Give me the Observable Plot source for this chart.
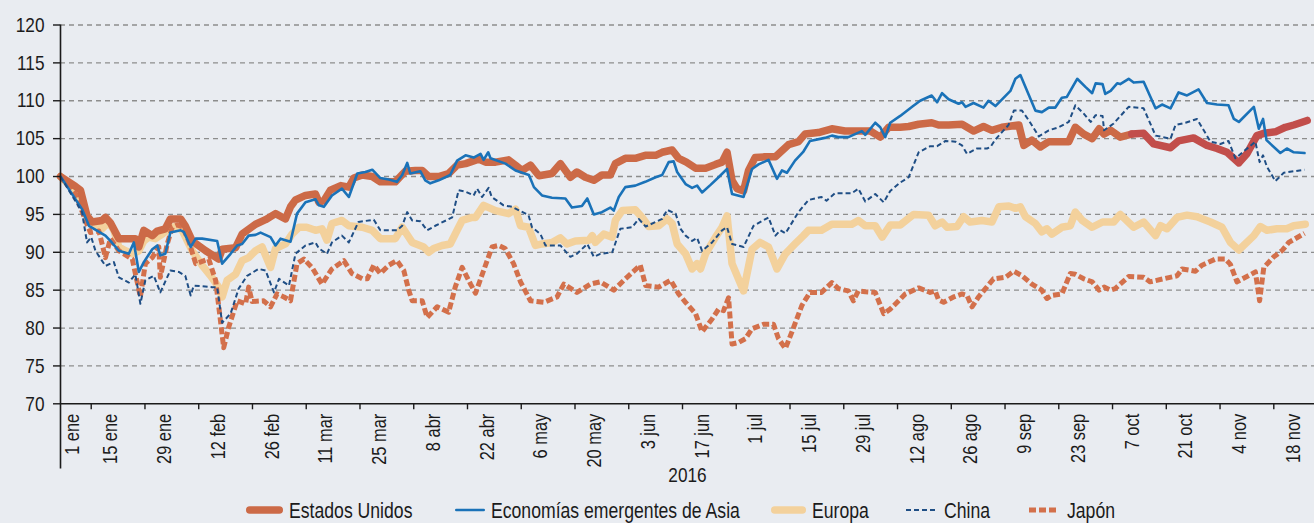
<!DOCTYPE html>
<html><head><meta charset="utf-8">
<script src="https://cdn.jsdelivr.net/npm/d3@7"></script>
<script src="https://cdn.jsdelivr.net/npm/@observablehq/plot@0.6"></script>
<style>
html,body{margin:0;padding:0;background:#E9ECF1;}
#chart{position:relative;width:1314px;height:523px;background:#E9ECF1;overflow:hidden;}
#chart svg{font-family:'Liberation Sans',Arial,sans-serif;}
</style></head><body><div id="chart"></div>
<script>
// ---- data (days since 1 Jan 2016, index values, 1 Jan 2016 = 100) ----
const usDay = [0,3.9,5.2,6.9,8.2,10.8,11.7,13,15.2,19.5,20.4,21.7,23.9,25.2,27.3,28.6,31.3,32.5,34.3,37.8,41.2,42.1,45.6,47.3,50.8,53.4,56,58.6,59.9,61.2,63.8,66.4,67.3,68.6,70.3,73,75.1,76.4,78.6,81.2,83.3,87.2,89.8,92.4,94.2,95.9,98.5,101.1,103.3,105.5,108.9,110.7,113.3,116.7,118.5,120.2,122.4,124.6,128,130.2,132.8,134.5,136.7,138.9,141,143.2,144.5,147.1,149.7,152.3,155,156.7,159.3,161,163,165.4,168,170.6,172.3,173.6,174.9,176.2,177.9,179.2,180.9,183.5,186.2,187.9,189.6,192.2,193.9,197.4,200.9,204.3,207.8,210.9,213.5,215.7,218.7,220.9,223.5,226.9,228.7,231.3,234.8,237.8,240.4,242.6,245.2,249.6,250.9,253,255.2,257.4,262.6,264.3,266.5,268.7,270.5,271.8,273.5,276,279,282.1,284.7,289.1,291.2,295.1,298.6,301.2,303.8,306.9,309,311.6,313.4,316.4,319,321.2,324.7];
const usVal = [100,98.7,98.2,94.8,94,94.2,94.6,93.9,91.8,91.8,90.7,92.9,92.2,92.8,93.1,94.4,94.4,93.5,91.5,90.2,89.1,90.4,90.6,92.4,93.7,94.3,95.1,94.4,96,96.9,97.5,97.7,96.6,96.8,98.2,98.8,98.6,99.8,100.2,100,99.3,99.3,100.7,100.8,100.8,100,100,100.4,101.5,101.7,102.3,101.9,101.9,102.2,101.5,100.8,101.5,100.1,100.4,101.7,99.9,100.6,99.9,99.5,100.2,100.2,101.7,102.4,102.4,102.8,102.8,103.2,103.5,102.4,101.9,101.1,101.1,101.6,101.9,103.2,99.5,98.4,98.1,100.8,102.5,102.6,102.6,103.4,104.2,104.6,105.6,105.8,106.3,106,106,106,105.2,106.5,106.5,106.6,106.9,107.1,106.8,106.8,106.9,106,106.6,106.1,106.5,106.8,104.1,104.8,103.9,104.6,104.6,106.5,105.6,105,106.3,105.6,106.1,105.2,105.6,105.7,104.3,103.8,104.7,105.1,104.1,103.7,103.2,101.8,103,105.4,105.7,105.9,106.5,106.8,107.4];
const usRecentFrom = 279; // day from which Estados Unidos is drawn in the darker red

const asiaDay = [0,5.6,7.4,11.7,13,15.2,17.8,19.1,20.4,21.7,23.9,25.2,26,27.3,28.6,31.3,32.1,33.9,35.2,36.9,40.8,42.1,44.3,46,47.3,49,50.8,52.1,54.7,56,57.3,59.9,61.6,63.8,66.4,67.3,68.6,70.7,73.3,75.1,77.3,79.4,81.2,83.3,85.5,87.6,89,90.3,91.1,93.7,95,96.3,98.5,101.5,103.3,105.5,107.6,109.4,110.2,111.4,112,115.9,118.5,122,123.3,125.4,128,131.5,133.2,135.8,137.2,138.9,141,143.2,144.1,145.4,147.1,149.7,152.3,155,156.7,158.4,159.7,160.6,162.8,164.5,165.8,167.1,169.3,171.4,173.6,174.9,177.9,180.1,181.8,184.4,186.6,187.9,189.2,191.3,193.5,195.2,199.1,200.9,202.6,205.2,208.7,209.6,212.2,213.5,214.8,216.1,218.7,221.8,223.9,226.9,228.3,229.6,231.3,233.9,234.8,235.7,237.8,240.4,241.7,243.5,247.4,248.7,250,253.9,255.6,257.4,259.1,260.8,262.1,264.8,267,268.7,269.6,271.4,272.1,273.5,275.2,276,278.2,279.5,282.1,285.2,286.9,289.1,291.2,293.4,296.4,298.6,301.2,304.2,305.6,306.9,310.8,312.1,313.2,314.1,317.7,319.4,321.2,324];
const asiaVal = [100,95.7,93.5,92.2,91.5,90.2,89.8,91.3,87.4,88.7,90.4,90.9,89.6,89.8,92.6,92.9,92.7,90.7,91.8,91.8,91.5,88.5,89.8,90.9,91.1,92.2,92.3,92.6,92,90.9,91.8,91.4,95.1,96.6,97,96.2,96,97.5,98.4,97.3,100.4,100.6,100.9,99.8,99.6,99.3,100.2,101.8,100.4,100.7,99.5,99.1,99.5,100.2,102.1,102.8,102.5,103,102.2,103.2,102.4,101.7,100.8,100.2,98.6,97.5,97.2,97.1,95.9,96.1,97.1,95,95.3,95.9,95.5,97.3,98.6,98.8,99.3,99.9,100.2,101.9,102,100.6,99,98.5,98.8,97.9,98.9,99.9,101,97.7,97.3,101,101.6,102.2,99.7,100.8,100.5,102.1,103.3,104.7,105.1,105.4,105.2,105.2,106,105.5,107.1,106.5,105.2,107.1,108,109.2,110,110.7,109.8,111,110.2,109.6,109.8,109.2,109.7,109.1,110,109.3,111.3,112.9,113.4,108.7,108.5,109.1,109.1,110.4,110.5,112.9,111.8,111,112.3,112.2,110.9,111.3,112.3,112.2,112.9,112.4,112.5,109,109.5,109,111.1,110.7,111.5,109.7,109.5,109.4,107.6,107.2,109.2,106.3,107.6,104.8,103.1,103.7,103.2,103.1];

const euDay = [0,3.9,6.1,7.4,10.8,12.6,13.9,15.2,16.9,18.7,20.4,21.7,23,24.7,26.5,28.2,29.9,31.7,34.3,37,39.1,41.2,42.1,43.4,45.6,47.3,49,50.8,52.5,54.7,56,58.6,60.3,62.1,64.1,66.4,68.1,69.4,70.7,73.3,75.1,78.6,81.2,83.3,87.2,89,91.6,94.6,95.9,97.2,99.4,101.5,103.3,104.6,107.2,108.1,110.2,113.3,116.7,118.5,119.8,121.9,123.7,125.4,128,130.2,131.9,134.1,137.6,138.5,139.3,141.5,143.7,144.5,146.3,149.7,151.5,153.2,155.8,158,159.3,160.6,162.8,164.5,165.8,166.7,168,170.6,172.3,173.6,174.9,177.9,180.1,182.2,184.4,186.6,188.8,191.3,193.5,194.8,198.2,200.9,206.1,207.8,209.6,212.2,214,216.1,218.7,222.2,226.1,227.8,229.6,230.9,233.5,235.2,236.9,240,242.6,244.4,247,248.7,250,251.3,253.9,255.6,256.9,258.2,260.8,263,264.3,266.1,268.7,271.4,274.3,276,279.5,282.1,285.2,286.5,288.2,290.8,293.4,296,299.5,302.5,304.7,306.9,310.8,312.5,314.2,316.8,319.4,321.2,324.2];
const euVal = [100,98.1,95.9,94.2,93.1,94,92.9,90.7,90.2,89.8,90.2,91.5,92,91.8,92.4,93.1,93.4,92.9,90.2,88.2,86.9,85.4,84.1,86.3,87.1,88.9,89.3,90.2,90.7,88,90.5,91.1,92.4,93.3,93.3,92.9,93.1,91.6,93.8,94.2,93.5,93.3,92.9,91.8,91.8,93.3,91.3,90.7,90,90.5,90.9,91.1,92.9,94.2,94.6,94.6,96.2,95.5,95.1,95.7,93.5,93.3,90.9,91.1,91.3,91.9,91.1,91.5,91.6,92.2,91.3,92.4,92,94.2,95.5,95.6,94.6,93.4,93.5,94.4,93.8,91.1,89.8,87.8,88.5,87.8,89.8,92,93.3,94.8,88.5,84.9,90.4,91.3,90.7,87.8,89.8,91.1,92.2,92.9,92.9,93.7,93.7,94.2,93.5,93.5,92,93.6,93.6,95,94.9,93.5,94,93.3,93.4,94.7,94,94.2,94,96,96.1,95.8,96,94.7,93.8,92.7,93.1,92.4,93.3,93.5,95.3,94.2,93.3,94,94,95,93.3,94,92.2,93.5,93.1,94.6,94.9,94.7,94,93.3,91.3,90.3,92.2,93.4,92.9,93.1,93.1,93.5,93.7];

const chinaDay = [0,5.6,6.9,8,9.1,11.7,13.9,15.2,17.8,19.5,20.8,22.1,24.3,26,28.6,30.8,32.5,33.9,34.7,39.5,40.8,42.1,44.3,46.4,48.6,51.6,53.4,55.6,56.9,59.5,61.2,63.8,66.4,67.3,69.4,70.7,73.3,75.1,77.6,81.6,83.3,87.6,89,90.3,91.6,93.7,95.5,97.6,102,103.7,105.5,107.6,108.5,109.8,111.5,112.3,115.4,117.6,121.9,122.8,125,126.3,130.2,132.8,134.5,137.2,138.9,140.6,143.7,145.8,148.9,150.6,152.4,156.7,158,160.2,161.5,162.8,164.5,165.8,167.1,169.7,172.3,173.6,174.9,177.9,180.5,184.4,186.2,187.5,188.8,192.2,194.8,198.2,199.5,201.7,206.1,207.8,209.6,212.2,214.4,216.1,218.7,220.9,223.5,226.5,228.3,230.5,233.1,234.8,236.1,238.7,241.3,242.2,243.5,246.9,248.3,250.4,252.2,254.8,257.4,260,262.6,264.3,266.5,268.3,269.6,271.4,271.8,274.3,278.2,282.1,285.2,289.1,290.4,293,296,299.5,302.1,304.2,306,311.2,312.3,313.2,314.2,316.4,318.6,324];
const chinaVal = [100,95.3,91.3,92,90.2,88.2,88.7,86.7,86,87.1,83.2,86.3,86.9,84.7,87.6,87.4,86.9,84.3,85.6,85.4,85.4,80.7,81.9,85.2,86.9,87.8,87.6,84.7,86.5,85.6,89.8,90.9,91.3,90.5,89.8,91.3,92.2,91.3,94,94.3,92.9,92.9,93.5,95.3,94.2,94.1,92.9,93.5,94.6,98.2,98,97.5,98.4,97.3,98.5,97.3,96.2,96,94.9,93.3,92.4,90.9,90.9,89.4,89.8,91.1,89.4,89.8,90,93.1,93.3,94.4,93.4,94.4,95.6,95.1,93.1,92.2,91.5,91.9,90.2,91.3,92.9,93.3,91.1,90.7,93.5,94.6,92.2,92.9,92.5,95.3,96.9,97.3,96.8,97.8,97.8,98.4,96.7,97.7,96.6,98.1,99.2,99.9,103.2,104,104,104.7,104.6,104.1,103,103.7,103.7,103.9,104.9,106.8,108.7,108.7,107.4,105.3,106.1,106.5,107.2,109.4,108.3,107.2,108.1,108,106.1,107,109.2,109,105.4,105,106.8,107.1,107.6,104.6,104.3,104.7,102.4,104.6,101.9,102.8,101.3,99.4,100.5,100.9];

const japanDay = [0,3.9,6.5,7.8,10,11.7,13,15.2,18.7,20.8,22.1,23.9,25.6,26,27.8,29.1,30.4,31.7,33.4,35.2,38.6,40.4,42.5,43.8,46,48.2,49,49.9,52.9,54.7,56.4,58.2,59.9,61.6,63.4,65.5,68.1,70.7,73.8,75.9,78.6,79.9,81.6,83.3,85.5,87.6,89.4,90.7,91.6,94.2,95.5,98.1,101.1,102.8,104.6,106.8,108.1,110.2,112.4,114.1,115.8,118,119.8,122.4,125.9,129.3,131.1,134.5,138,140.6,144.1,146.7,151,152.4,155.8,158.9,161,162.8,165.4,167.1,169.7,171.4,172.7,174,174.9,176.6,178.4,180.1,183.1,185.7,187,188.8,190.5,193.1,195.2,198.2,200.9,202.6,205.2,206.5,207.8,209.6,212.2,214.4,216.1,218.7,220,223.5,226.5,227.8,228.7,230,232.6,234.8,236.1,237.4,239.1,240.9,243,246.1,248.3,250.4,253,255.6,256.9,258.2,260.8,263,264.3,266.5,268.7,270.5,271.8,273.5,274.7,278.2,282.1,283.8,287.3,290.8,292.1,295.6,297.3,300.8,303.4,304.7,306.4,311.2,312.3,313.4,316,318.1,319.9,324];
const japanVal = [100,97.7,94.2,92.6,92.8,89.3,91.8,90.2,89.1,84.1,88.5,89.3,90.7,86.7,91.1,93.3,93.6,93.4,91.5,88.5,89.1,86.3,77.4,80.1,83.6,83.2,85.4,83.5,83.6,82.8,84.5,84.1,83.6,88.5,89.1,88,85.8,87.8,88.9,87.2,86.5,86.5,88.3,87.2,88.3,88.9,87.6,85,83.6,83.6,81.4,82.8,82.1,85.4,88,85.8,84.6,87.6,90.7,90.9,90.5,88.5,86.1,83.6,83.4,84.1,85.8,84.7,85.8,86.1,85,86.3,88.3,85.6,85.4,86.3,84.5,83.4,81.9,79.5,81.2,82.5,82.3,84,77.9,78.1,78.6,79.9,80.5,80.5,78.6,77.3,79.5,83,84.7,84.7,86,85.2,84.9,83.6,84.9,84.8,84.7,81.9,82.5,83.8,84.5,85.3,84.7,84.9,83.7,83.4,84.1,84.5,84.3,82.8,84.1,85.2,86.5,86.7,87.5,86.9,85.8,85,83.9,84.3,84.5,87.2,87.1,86.5,86.1,85,85.4,85,85.2,86.8,86.7,86.1,86.5,86.9,87.8,87.5,88.3,89.1,89.1,88.4,86.1,87.4,83.6,88,89.4,90.2,91.3,92.5];

const yTicks = [70,75,80,85,90,95,100,105,110,115,120];
const gridValues = [75,80,85,90,95,100,105,110,115,120];
const tickLabels = ["1 ene","15 ene","29 ene","12 feb","26 feb","11 mar","25 mar","8 abr","22 abr","6 may","20 may","3 jun","17 jun","1 jul","15 jul","29 jul","12 ago","26 ago","9 sep","23 sep","7 oct","21 oct","4 nov","18 nov"];
const tickLabelDay = tickLabels.map((_, i) => i * 14);      // 1 ene, 15 ene, ... every two weeks
const tickMarkDay = d3.range(23).map(i => 8 + i * 14);       // separators between the labels
const axisEndDay = 326.6;
const yearLabel = "2016";

const series = [
  {name: "Estados Unidos", color: "#CC6A47", width: 7.5, dash: null},
  {name: "Economías emergentes de Asia", color: "#1A72B8", width: 2.6, dash: null},
  {name: "Europa", color: "#F3D19C", width: 7.5, dash: null},
  {name: "China", color: "#1F4E85", width: 2, dash: "5,3"},
  {name: "Japón", color: "#D3704B", width: 5, dash: "7,3"}
];
const usRecentColor = "#C24E4B";

// ---- build ----
const t0 = Date.UTC(2016, 0, 1);
const toDate = d => new Date(t0 + d * 864e5);
const rows = (days, vals) => days.map((d, i) => ({date: toDate(d), value: vals[i], day: d}));
const us = rows(usDay, usVal);
const asia = rows(asiaDay, asiaVal);
const eu = rows(euDay, euVal);
const china = rows(chinaDay, chinaVal);
const japan = rows(japanDay, japanVal);
const S = Object.fromEntries(series.map(s => [s.name, s]));
const lineOpts = s => ({x: "date", y: "value", stroke: s.color, strokeWidth: s.width, strokeDasharray: s.dash, strokeLinejoin: "round", strokeLinecap: s.dash ? "butt" : "round"});

const ink = "#1b1b1b";
const narrowK = 0.82; // horizontal squeeze of the text (condensed face look)
const chart = Plot.plot({
  width: 1314, height: 490,
  marginLeft: 60, marginRight: 0, marginTop: 24.5, marginBottom: 86.7,
  style: {background: "transparent", color: ink, fontSize: "21px"},
  x: {type: "utc", domain: [toDate(0), toDate(axisEndDay)], axis: null},
  y: {domain: [70, 120], axis: null},
  marks: [
    Plot.ruleY(gridValues, {stroke: "#8d8d8d", strokeWidth: 1.3, strokeDasharray: "5,4"}),
    Plot.line(eu, lineOpts(S["Europa"])),
    Plot.line(japan, lineOpts(S["Japón"])),
    Plot.line(us.filter(d => d.day <= usRecentFrom), lineOpts(S["Estados Unidos"])),
    Plot.line(us.filter(d => d.day >= usRecentFrom), {...lineOpts(S["Estados Unidos"]), stroke: usRecentColor}),
    Plot.line(asia, lineOpts(S["Economías emergentes de Asia"])),
    Plot.line(china, lineOpts(S["China"])),
    Plot.axisY({ticks: yTicks, tickSize: 7, tickPadding: 9, fontSize: 21, label: null, strokeWidth: 1.4}),
    Plot.ruleX([toDate(0)], {y1: 120, y2: 61.4, stroke: ink, strokeWidth: 1.6}),
    Plot.ruleY([70], {stroke: ink, strokeWidth: 1.6}),
    Plot.axisX({ticks: tickMarkDay.map(toDate), tickSize: 6, tickFormat: () => "", label: null, strokeWidth: 1.4}),
    Plot.text(tickLabelDay.slice(0, 1).map(toDate), {x: d => d, frameAnchor: "bottom", text: () => tickLabels[0], rotate: -90, textAnchor: "end", dy: 10, dx: 18, fontSize: 20, fill: ink}),
    Plot.text(tickLabelDay.slice(1).map(toDate), {x: d => d, frameAnchor: "bottom", text: (d, i) => tickLabels[i + 1], rotate: -90, textAnchor: "end", dy: 10, dx: 3, fontSize: 20, fill: ink}),
    Plot.text([yearLabel], {frameAnchor: "bottom", text: d => d, dy: 78, fontSize: 21, fill: ink})
  ]
});
d3.select(chart).selectAll("text").each(function() {
  const t = this.getAttribute("transform") || "";
  this.setAttribute("transform", `${t} scale(${narrowK},1)`);
});
const root = document.getElementById("chart");
root.appendChild(chart);

// ---- legend ----
const legendPos = [
  {x1: 246, x2: 283, tx: 289},
  {x1: 455, x2: 485, tx: 491},
  {x1: 771, x2: 806, tx: 812},
  {x1: 906, x2: 936, tx: 944},
  {x1: 1029, x2: 1059, tx: 1067}
];
const leg = d3.create("svg").attr("width", 1314).attr("height", 33)
  .style("position", "absolute").style("left", "0px").style("top", "490px");
series.forEach((s, i) => {
  const p = legendPos[i];
  leg.append("line").attr("x1", p.x1 + (s.dash ? 0 : s.width / 2)).attr("x2", p.x2 - (s.dash ? 0 : s.width / 2))
    .attr("y1", 20).attr("y2", 20)
    .attr("stroke", s.color).attr("stroke-width", s.width)
    .attr("stroke-linecap", s.dash ? "butt" : "round")
    .attr("stroke-dasharray", s.dash);
  leg.append("text").attr("transform", `translate(${p.tx},28) scale(${narrowK},1)`).attr("fill", ink)
    .attr("font-size", 21.5).text(s.name);
});
root.appendChild(leg.node());
</script></body></html>
